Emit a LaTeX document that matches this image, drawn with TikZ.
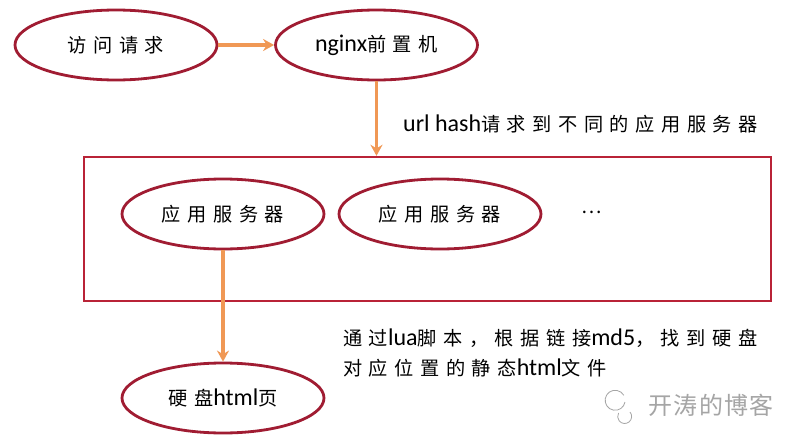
\documentclass[tikz,border=0pt]{standalone}
\usepackage{fontspec}
\setmainfont{Carlito}
\newfontfamily\cjk[LetterSpace=34,Scale=0.8]{Noto Sans CJK SC}
\newfontfamily\wmfont[LetterSpace=6]{Noto Sans CJK SC}
\newcommand\zh[1]{{\cjk #1}}
\usetikzlibrary{arrows.meta,shapes.geometric}
\definecolor{ered}{RGB}{160,28,50}
\definecolor{bred}{RGB}{185,35,55}
\definecolor{arrorange}{RGB}{240,152,85}
\definecolor{wmgray}{RGB}{165,165,165}
\tikzset{
  oval/.style={ellipse, draw=ered, line width=2.8pt, fill=white,
    minimum width=202pt, minimum height=70pt, inner sep=0pt,
    font=\fontsize{24}{28}\selectfont},
  frame/.style={draw=bred, line width=2.4pt, minimum width=687pt,
    minimum height=144pt, inner sep=0pt},
  flow/.style={draw=arrorange, line width=3.4pt,
    -{Stealth[length=11pt,width=12pt]}},
  note/.style={font=\fontsize{24}{30}\selectfont, inner sep=0pt, align=left},
}
\begin{document}
\begin{tikzpicture}[x=1pt,y=-1pt]
\useasboundingbox[fill=white] (0,0) rectangle (801,447);
\node[frame] (box) at (427.5,229) {};
\node[oval] (req) at (116,45) {\zh{访问请求}};
\node[oval] (ngx) at (376.5,45) {nginx\zh{前置机}};
\node[oval] (s1) at (223,214) {\zh{应用服务器}};
\node[oval] (s2) at (440,214) {\zh{应用服务器}};
\node[note] (dots) at (592,212) {\zh{…}};
\node[oval] (disk) at (223,398) {\zh{硬盘}html\zh{页}};
\node[note, anchor=west] (lbl1) at (403,124) {url hash\zh{请求到不同的应用服务器}};
\node[note, anchor=west] (lbl2) at (343,353) {\zh{通过}lua\zh{脚本，根据链接}md5\zh{，找到硬盘}\\\zh{对应位置的静态}html\zh{文件}};
\draw[flow] (req.east) -- (ngx.west);
\draw[flow] (ngx.south) -- (ngx.south |- box.north);
\draw[flow] (s1.south) -- (disk.north);
\node[anchor=west, text=wmgray, font=\fontsize{24}{28}\selectfont\wmfont, inner sep=0pt] (wm) at (648,405) {开涛的博客};
\draw[wmgray, line width=0.8pt] (625,402) arc (10:330:10) (630,412) arc (-40:210:7);
\end{tikzpicture}
\end{document}
